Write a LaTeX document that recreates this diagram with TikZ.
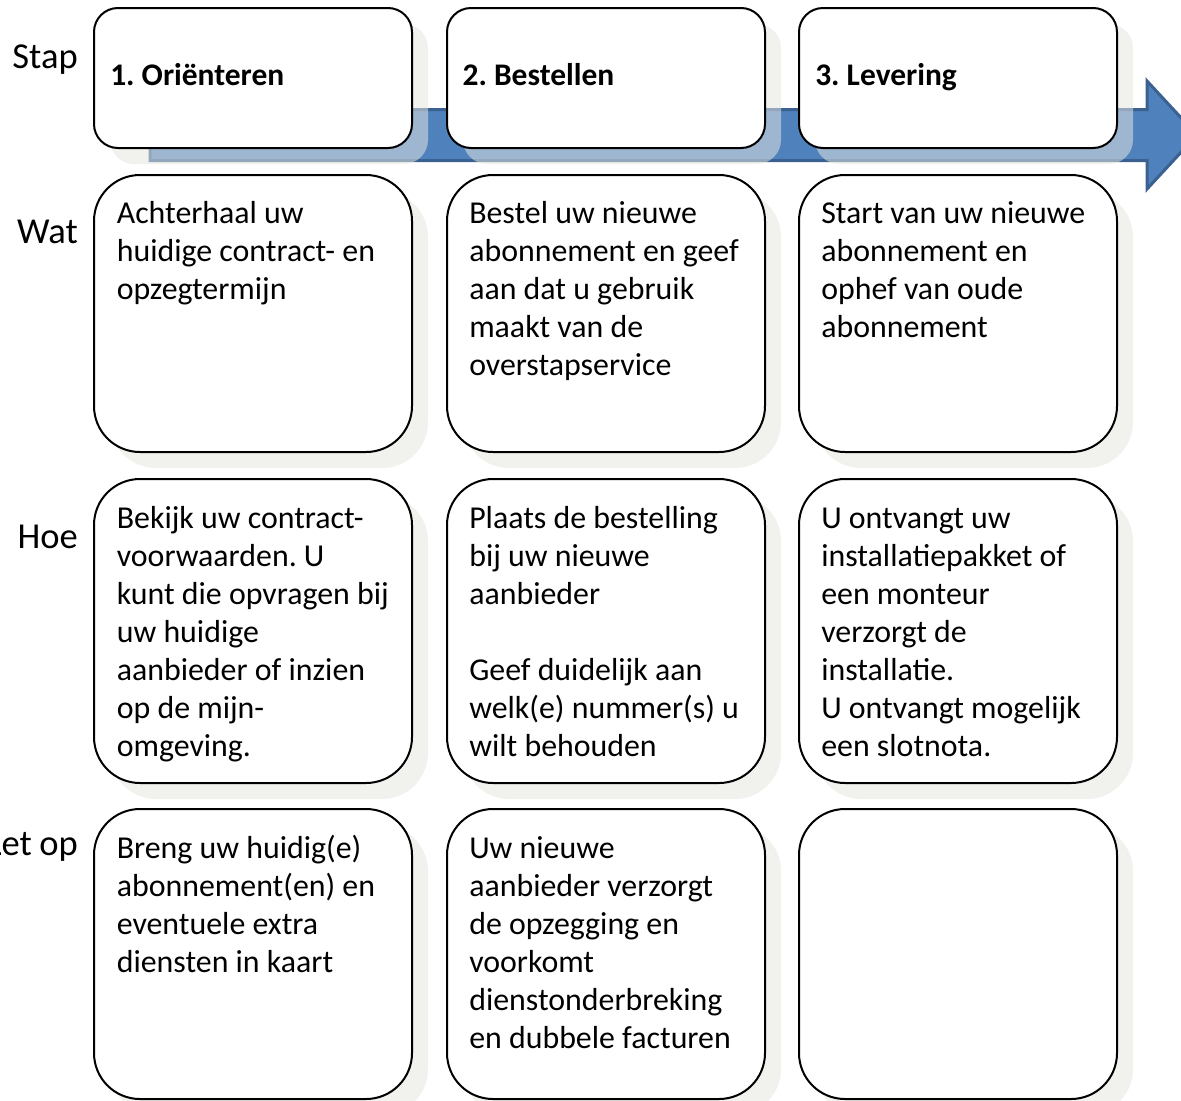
\documentclass[tikz,border=0pt]{standalone}
\usepackage{fontspec}
\setmainfont{Carlito}
\usetikzlibrary{shadows}
\definecolor{bandblue}{HTML}{4F81BD}
\definecolor{bandline}{HTML}{3A6190}
\definecolor{shadowcol}{RGB}{230,230,224}
\newcommand{\mlines}[1]{\begin{tabular}[t]{@{}l@{}}#1\end{tabular}}
\frenchspacing
\begin{document}
\frenchspacing
\begin{tikzpicture}[x=0.75pt,y=-0.75pt,
  box/.style={draw=black,line width=1.5pt,fill=white,rounded corners=34.5pt,
    minimum width=238.5pt,inner sep=0pt,outer sep=0pt,anchor=north west,
    drop shadow={shadow xshift=12pt,shadow yshift=-12pt,fill=shadowcol,opacity=0.53}},
  stepbox/.style={box,rounded corners=18pt,minimum height=105pt},
  watbox/.style={box,minimum height=207.75pt},
  hoebox/.style={box,minimum height=228pt},
  letbox/.style={box,minimum height=217.5pt},
  body/.style={font=\fontsize{23.9pt}{28.5pt}\selectfont,inner sep=0pt,anchor=base west},
  steptxt/.style={font=\fontsize{23.6pt}{28.5pt}\selectfont\bfseries,inner sep=0pt,anchor=base west},
  lab/.style={font=\fontsize{27.4pt}{32pt}\selectfont,inner sep=0pt,anchor=base east},
  band/.style={fill=bandblue,draw=bandline,line width=2.25pt,line join=miter}
]
\clip (0,0) rectangle (1181,1100);
\fill[white] (0,0) rectangle (1181,1100);

% arrow band
\draw[band] (150,109.5) -- (1147,109.5) -- (1147,81) -- (1197,135) -- (1147,189) -- (1147,160.5) -- (150,160.5) -- cycle;

% row labels
\node[lab] (lstap) at (78,68) {Stap};
\node[lab] (lwat) at (78,243) {Wat};
\node[lab] (lhoe) at (78,548) {Hoe};
\node[lab] (llet) at (78,855) {Let\hspace{0.2em}op};

% step boxes
\node[stepbox] (s1) at (94,8) {};
\node[stepbox] (s2) at (447,8) {};
\node[stepbox] (s3) at (799,8) {};
\node[steptxt] (s1t) at ([xshift=12pt,yshift=-57.75pt]s1.north west) {1. Oriënteren};
\node[steptxt] (s2t) at ([xshift=11.5pt,yshift=-57.75pt]s2.north west) {2. Bestellen};
\node[steptxt] (s3t) at ([xshift=12pt,yshift=-57.75pt]s3.north west) {3. Levering};

% wat row
\node[watbox] (w1) at (94,175) {};
\node[watbox] (w2) at (447,175) {};
\node[watbox] (w3) at (799,175) {};
\node[body] (w1t) at ([xshift=16.9pt,yshift=-36pt]w1.north west)
  {\mlines{Achterhaal uw\\huidige contract- en\\opzegtermijn}};
\node[body] (w2t) at ([xshift=16.5pt,yshift=-36pt]w2.north west)
  {\mlines{Bestel uw nieuwe\\abonnement en geef\\aan dat u gebruik\\maakt van de\\overstapservice}};
\node[body] (w3t) at ([xshift=16.5pt,yshift=-36pt]w3.north west)
  {\mlines{Start van uw nieuwe\\abonnement en\\ophef van oude\\abonnement}};

% hoe row
\node[hoebox] (h1) at (94,479) {};
\node[hoebox] (h2) at (447,479) {};
\node[hoebox] (h3) at (799,479) {};
\node[body] (h1t) at ([xshift=16.9pt,yshift=-36.75pt]h1.north west)
  {\mlines{Bekijk uw contract-\\voorwaarden. U\\kunt die opvragen bij\\uw huidige\\aanbieder of inzien\\op de mijn-\\omgeving.}};
\node[body] (h2t) at ([xshift=16.5pt,yshift=-36.75pt]h2.north west)
  {\mlines{Plaats de bestelling\\bij uw nieuwe\\aanbieder\\ \\Geef duidelijk aan\\welk(e) nummer(s) u\\wilt behouden}};
\node[body] (h3t) at ([xshift=16.5pt,yshift=-36.75pt]h3.north west)
  {\mlines{U ontvangt uw\\installatiepakket of\\een monteur\\verzorgt de\\installatie.\\U ontvangt mogelijk\\een slotnota.}};

% let op row
\node[letbox] (l1) at (94,809) {};
\node[letbox] (l2) at (447,809) {};
\node[letbox] (l3) at (799,809) {};
\node[body] (l1t) at ([xshift=16.9pt,yshift=-36.75pt]l1.north west)
  {\mlines{Breng uw huidig(e)\\abonnement(en) en\\eventuele extra\\diensten in kaart}};
\node[body] (l2t) at ([xshift=16.5pt,yshift=-36.75pt]l2.north west)
  {\mlines{Uw nieuwe\\aanbieder verzorgt\\de opzegging en\\voorkomt\\dienstonderbreking\\en dubbele facturen}};
\end{tikzpicture}
\end{document}
